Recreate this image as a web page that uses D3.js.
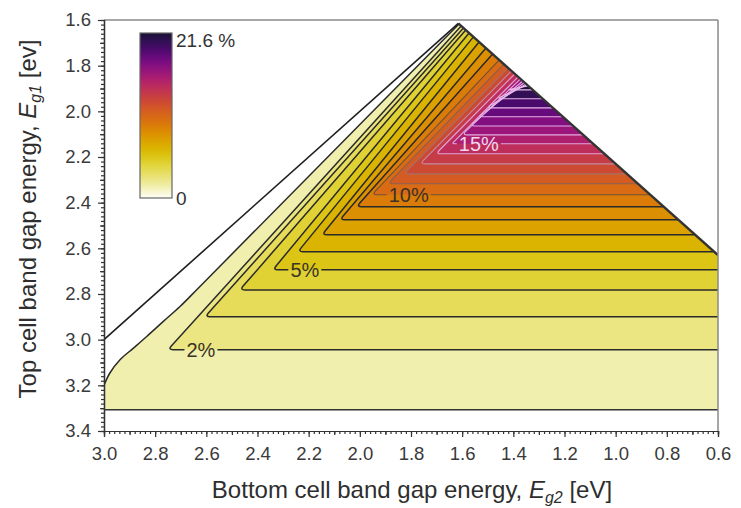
<!DOCTYPE html>
<html><head><meta charset="utf-8">
<script src="https://cdn.jsdelivr.net/npm/d3@7"></script>
<style>body{margin:0;background:#fff} svg{display:block} text{font-family:'Liberation Sans',Arial,Helvetica,sans-serif}</style>
</head><body><svg id="c" width="741" height="508"></svg>
<script>
// ---------------- data ----------------
const xTickValues = [3.0, 2.8, 2.6, 2.4, 2.2, 2.0, 1.8, 1.6, 1.4, 1.2, 1.0, 0.8, 0.6];
const yTickValues = [1.6, 1.8, 2.0, 2.2, 2.4, 2.6, 2.8, 3.0, 3.2, 3.4];
const levels = [1,2,3,4,5,6,7,8,9,10,11,12,13,14,15,16,17,18,19,20,21];
// Eg1 of the horizontal part of each contour (level 1 = cut-off line)
const horizontalEg1 = [3.307, 3.044, 2.900, 2.782, 2.694, 2.615, 2.541, 2.475, 2.418, 2.365, 2.317,
                       2.274, 2.230, 2.186, 2.142, 2.103, 2.064, 2.024, 1.985, 1.945, 1.906];
// Eg2 of the corner where the horizontal part turns into the diagonal part
const cornerEg2 = [null, 2.75, 2.605, 2.469, 2.34, 2.242, 2.148, 2.078, 2.013, 1.953, 1.89,
                   1.828, 1.765, 1.703, 1.64, 1.60, 1.57, 1.539, 1.505, 1.466, 1.427];
// Eg1 where the diagonal part meets the right (Eg1+Eg2 = const) boundary
const endEg1 = [1.6175, 1.626, 1.635, 1.644, 1.657, 1.674, 1.696, 1.723, 1.749, 1.775, 1.793,
                1.810, 1.823, 1.836, 1.849, 1.858, 1.867, 1.874, 1.880, 1.884, 1.889];
// curved start of the 1 % contour (Eg2, Eg1)
const level1Curve = [[3.0, 3.2], [2.977, 3.146], [2.9375, 3.088], [2.885, 3.037], [2.833, 2.986],
                     [2.768, 2.920], [2.703, 2.855], [2.625, 2.767]];
const labelLevels = [2, 5, 10, 15];
const labelEg2 = [2.621, 2.215, 1.809, 1.535];
const maxEff = 21.6;
const apexEg = 1.615;           // apex of the allowed triangle (Eg1 = Eg2)
const colorEff = [0, 1.5, 2.5, 3.5, 4.5, 5.5, 6.5, 7.5, 8.5, 9.5, 10.5, 11.5, 12.5, 13.5, 14.5, 15.5, 16.5, 17.5, 18.5, 19.5, 20.5, 21.6];
const colorHex = ['#fffff6', '#f1efae', '#ebe582', '#e6dc5a', '#e0d234', '#dcc514', '#dab400', '#dca200',
                  '#dc8f02', '#db7c08', '#d86b14', '#d45c22', '#cd4a32', '#c63c46', '#bd2e5a', '#ae206e',
                  '#9a167a', '#820e80', '#660a7c', '#4a0a6c', '#311055', '#1a1038'];

// ---------------- setup ----------------
const svg = d3.select('#c');
const x = d3.scaleLinear().domain([3.0, 0.6]).range([104, 718]);
const y = d3.scaleLinear().domain([1.6, 3.4]).range([20, 431]);
const color = d3.scaleLinear().domain(colorEff).range(colorHex).interpolate(d3.interpolateRgb);
const lineColor = d3.scaleLinear().domain([1, 9, 10, 12, 14, 21])
  .range(['#2a2a2a', '#2a2a2a', '#6e5238', '#a4706a', '#e0a4dc', '#ecbcec']);
const S = 2 * apexEg;           // right boundary: Eg1 + Eg2 = S
const P = (e2, e1) => [x(e2), y(e1)];
const FONT = "'Liberation Sans',Arial,Helvetica,sans-serif";

svg.append('defs').append('clipPath').attr('id', 'plotclip')
  .append('rect').attr('x', 104).attr('y', 20).attr('width', 614).attr('height', 411);
const plot = svg.append('g').attr('clip-path', 'url(#plotclip)');

function buildPath(pts, roundIdx, r, closed) {
  const p = d3.path();
  p.moveTo(pts[0][0], pts[0][1]);
  for (let i = 1; i < pts.length; i++) {
    const [px0, py0] = pts[i];
    if (roundIdx.includes(i) && i < pts.length - 1) {
      const [ax, ay] = pts[i - 1], [bx, by] = pts[i + 1];
      const d1 = Math.hypot(ax - px0, ay - py0), d2 = Math.hypot(bx - px0, by - py0);
      const rr = Math.min(r, d1 / 2, d2 / 2);
      p.lineTo(px0 + (ax - px0) / d1 * rr, py0 + (ay - py0) / d1 * rr);
      p.quadraticCurveTo(px0, py0, px0 + (bx - px0) / d2 * rr, py0 + (by - py0) / d2 * rr);
    } else p.lineTo(px0, py0);
  }
  if (closed) p.closePath();
  return p.toString();
}

// ---------------- filled bands ----------------
const rightCornerEg1 = S - 0.6;
const curveGen = d3.line().curve(d3.curveCatmullRom.alpha(0.5));
const curvePx = level1Curve.map(d => P(d[0], d[1])).concat([P(S - endEg1[0], endEg1[0])]);
const curveD = curveGen(curvePx);
const curveRevD = curveGen(curvePx.slice().reverse());

levels.forEach((lv, i) => {
  const fillC = color(Math.min(lv + 0.5, 21.4));
  if (lv === 1) {
    const a = P(3.0, horizontalEg1[0]), b = P(0.6, horizontalEg1[0]), c = P(0.6, rightCornerEg1);
    const d = `M${a}L${b}L${c}` + curveRevD.replace(/^M/, 'L') + 'Z';
    plot.append('path').attr('d', d).attr('fill', fillC);
    return;
  }
  const h = horizontalEg1[i];
  const pts = [];
  pts.push(h >= rightCornerEg1 ? P(0.6, h) : P(S - h, h));
  pts.push(P(cornerEg2[i], h));
  pts.push(P(S - endEg1[i], endEg1[i]));
  if (h >= rightCornerEg1) pts.push(P(0.6, rightCornerEg1));
  plot.append('path').attr('d', buildPath(pts, [1], 5, true)).attr('fill', fillC);
});

// ---------------- contour lines ----------------
const lines = plot.append('g').attr('fill', 'none');
lines.append('path').attr('d', curveD).attr('stroke', lineColor(1)).attr('stroke-width', 1.5);
lines.append('path').attr('d', d3.line()([P(3.0, horizontalEg1[0]), P(0.6, horizontalEg1[0])]))
  .attr('stroke', '#333').attr('stroke-width', 1.5);

const labelG = svg.append('g');
const labelInfo = {};
labelLevels.forEach((lv, j) => {
  const i = lv - 1;
  const t = labelG.append('text')
    .attr('x', x(labelEg2[j])).attr('y', y(horizontalEg1[i]))
    .attr('text-anchor', 'middle').attr('dominant-baseline', 'central')
    .attr('font-size', 20)
    .attr('fill', lv >= 15 ? '#f2d6f0' : '#3a3326')
    .text(lv + '%');
  labelInfo[lv] = {cx: x(labelEg2[j]), hw: t.node().getComputedTextLength() / 2 + 2};
});

levels.forEach((lv, i) => {
  if (lv === 1) return;
  const h = horizontalEg1[i];
  const start = h >= rightCornerEg1 ? P(0.6, h) : P(S - h, h);
  const corner = P(cornerEg2[i], h);
  const end = P(S - endEg1[i], endEg1[i]);
  const sc = lineColor(lv);
  const sw = lv <= 9 ? 1.5 : 1.1;
  if (labelInfo[lv]) {
    const L = labelInfo[lv];
    lines.append('path').attr('d', d3.line()([start, [L.cx + L.hw, y(h)]]))
      .attr('stroke', sc).attr('stroke-width', sw);
    lines.append('path').attr('d', buildPath([[L.cx - L.hw, y(h)], corner, end], [1], 5, false))
      .attr('stroke', sc).attr('stroke-width', sw);
  } else {
    lines.append('path').attr('d', buildPath([start, corner, end], [1], 5, false))
      .attr('stroke', sc).attr('stroke-width', sw);
  }
});

// boundaries of the allowed region
plot.append('path').attr('d', d3.line()([P(3.0, 3.0), P(apexEg, apexEg)]))
  .attr('stroke', '#1e1e1e').attr('stroke-width', 1.6).attr('fill', 'none');
plot.append('path').attr('d', d3.line()([P(apexEg, apexEg), P(0.6, rightCornerEg1)]))
  .attr('stroke', '#333').attr('stroke-width', 2.4).attr('fill', 'none');
labelG.raise();

// ---------------- frame & axes ----------------
svg.append('line').attr('x1', 104).attr('x2', 718).attr('y1', 20).attr('y2', 20).attr('stroke', '#8a8a8a').attr('stroke-width', 1.5);
svg.append('line').attr('x1', 718).attr('x2', 718).attr('y1', 20).attr('y2', 431).attr('stroke', '#8a8a8a').attr('stroke-width', 1.5);

const minorX = d3.range(0, 121).map(k => 0.6 + k * 0.02).filter(v => v <= 3.0001);
const minorY = d3.range(0, 91).map(k => 1.6 + k * 0.02).filter(v => v <= 3.4001);
const midX = d3.range(0, 13).map(k => 0.7 + k * 0.2).filter(v => v < 3.0);
const midY = d3.range(0, 9).map(k => 1.7 + k * 0.2);

const gx = svg.append('g').attr('transform', 'translate(0,431)');
gx.append('g').call(d3.axisBottom(x).tickValues(minorX).tickSize(3).tickFormat(''));
gx.append('g').call(d3.axisBottom(x).tickValues(midX).tickSize(4).tickFormat(''));
gx.append('g').call(d3.axisBottom(x).tickValues(xTickValues).tickSize(6).tickPadding(10).tickFormat(d3.format('.1f')));
const gy = svg.append('g').attr('transform', 'translate(104,0)');
gy.append('g').call(d3.axisLeft(y).tickValues(minorY).tickSize(3).tickFormat(''));
gy.append('g').call(d3.axisLeft(y).tickValues(midY).tickSize(4).tickFormat(''));
gy.append('g').call(d3.axisLeft(y).tickValues(yTickValues).tickSize(6).tickPadding(7).tickFormat(d3.format('.1f')));
svg.selectAll('.domain, .tick line').attr('stroke', '#333').attr('stroke-width', 1.2);
svg.selectAll('.tick text').attr('font-size', 18.5).attr('fill', '#3a3a3a').attr('font-family', FONT);

// axis titles
const xt = svg.append('text').attr('x', 412).attr('y', 498).attr('text-anchor', 'middle')
  .attr('font-size', 24).attr('fill', '#2e2e2e');
xt.append('tspan').text('Bottom cell band gap energy, ');
xt.append('tspan').attr('font-style', 'italic').text('E');
xt.append('tspan').attr('font-style', 'italic').attr('font-size', 16).attr('dy', 5).text('g2');
xt.append('tspan').attr('dy', -5).text(' [eV]');

const yt = svg.append('text').attr('transform', 'translate(36,219) rotate(-90)').attr('text-anchor', 'middle')
  .attr('font-size', 24).attr('fill', '#2e2e2e');
yt.append('tspan').text('Top cell band gap energy, ');
yt.append('tspan').attr('font-style', 'italic').text('E');
yt.append('tspan').attr('font-style', 'italic').attr('font-size', 16).attr('dy', 5).text('g1');
yt.append('tspan').attr('dy', -5).text(' [ev]');

// ---------------- colour bar ----------------
const cb = d3.scaleLinear().domain([0, maxEff]).range([198, 33]);
const grad = svg.select('defs').append('linearGradient').attr('id', 'cbgrad')
  .attr('x1', 0).attr('y1', 1).attr('x2', 0).attr('y2', 0);
d3.range(0, 41).forEach(k => {
  const v = maxEff * k / 40;
  grad.append('stop').attr('offset', (k / 40 * 100) + '%').attr('stop-color', color(v));
});
svg.append('rect').attr('x', 140).attr('y', cb(maxEff)).attr('width', 32).attr('height', cb(0) - cb(maxEff))
  .attr('fill', 'url(#cbgrad)').attr('stroke', '#666').attr('stroke-width', 1.2);
svg.append('text').attr('x', 176).attr('y', cb(maxEff) + 14).attr('font-size', 19).attr('fill', '#333').text('21.6 %');
svg.append('text').attr('x', 176).attr('y', cb(0) + 7).attr('font-size', 19).attr('fill', '#333').text('0');
</script></body></html>
